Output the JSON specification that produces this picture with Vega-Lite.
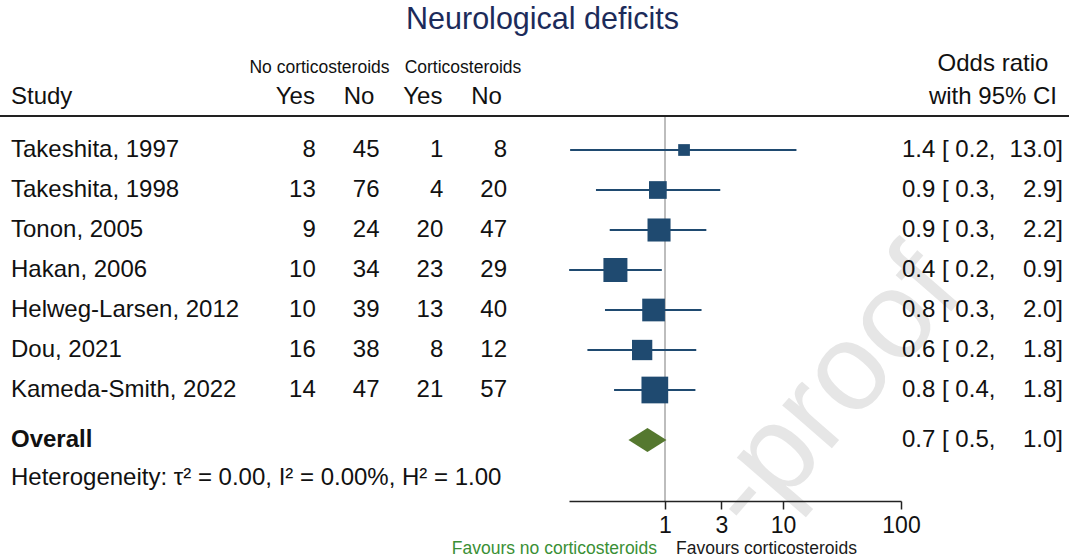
{
  "$schema": "https://vega.github.io/schema/vega-lite/v6.json",
  "width": 1069,
  "height": 558,
  "autosize": {"type": "none"},
  "padding": 0,
  "background": "#ffffff",
  "config": {
    "view": {"stroke": null},
    "text": {"font": "Liberation Sans", "fontSize": 24, "color": "#111111", "baseline": "middle"}
  },
  "datasets": {
    "rows": [
      {"kind": "study", "label": "Takeshita, 1997", "r": 1, "ny": 8, "nn": 45, "cy": 1, "cn": 8, "or": 1.45, "lo": 0.157, "hi": 13.0, "w": 4.3, "est": "1.4 [ 0.2,", "up": "13.0]"},
      {"kind": "study", "label": "Takeshita, 1998", "r": 2, "ny": 13, "nn": 76, "cy": 4, "cn": 20, "or": 0.87, "lo": 0.26, "hi": 2.94, "w": 9.8, "est": "0.9 [ 0.3,", "up": "2.9]"},
      {"kind": "study", "label": "Tonon, 2005", "r": 3, "ny": 9, "nn": 24, "cy": 20, "cn": 47, "or": 0.89, "lo": 0.34, "hi": 2.24, "w": 16.6, "est": "0.9 [ 0.3,", "up": "2.2]"},
      {"kind": "study", "label": "Hakan, 2006", "r": 4, "ny": 10, "nn": 34, "cy": 23, "cn": 29, "or": 0.38, "lo": 0.154, "hi": 0.94, "w": 18.0, "est": "0.4 [ 0.2,", "up": "0.9]"},
      {"kind": "study", "label": "Helweg-Larsen, 2012", "r": 5, "ny": 10, "nn": 39, "cy": 13, "cn": 40, "or": 0.8, "lo": 0.31, "hi": 2.04, "w": 16.1, "est": "0.8 [ 0.3,", "up": "2.0]"},
      {"kind": "study", "label": "Dou, 2021", "r": 6, "ny": 16, "nn": 38, "cy": 8, "cn": 12, "or": 0.64, "lo": 0.22, "hi": 1.84, "w": 12.9, "est": "0.6 [ 0.2,", "up": "1.8]"},
      {"kind": "study", "label": "Kameda-Smith, 2022", "r": 7, "ny": 14, "nn": 47, "cy": 21, "cn": 57, "or": 0.82, "lo": 0.37, "hi": 1.81, "w": 22.3, "est": "0.8 [ 0.4,", "up": "1.8]"},
      {"kind": "overall", "label": "Overall", "r": 8.25, "or": 0.71, "lo": 0.5, "hi": 1.03, "est": "0.7 [ 0.5,", "up": "1.0]"}
    ],
    "notes": [
      {"txt": "Study", "r": -0.325},
      {"txt": "Heterogeneity: τ² = 0.00, I² = 0.00%, H² = 1.00", "r": 9.2}
    ],
    "colheads": [
      {"key": "ny", "txt": "Yes", "r": -0.325},
      {"key": "nn", "txt": "No", "r": -0.325},
      {"key": "cy", "txt": "Yes", "r": -0.325},
      {"key": "cn", "txt": "No", "r": -0.325}
    ],
    "groupheads": [
      {"grp": "No corticosteroids", "r": -1.05},
      {"grp": "Corticosteroids", "r": -1.05}
    ],
    "orheads": [
      {"txt": "Odds ratio", "r": -1.15},
      {"txt": "with 95% CI", "r": -0.325}
    ],
    "title": [{"txt": "Neurological deficits", "r": -2.25}],
    "hline": [{"r": 0.15}],
    "refline": [{"or": 1, "r0": 0.15, "r1": 9.78}],
    "favours": [
      {"txt": "Favours no corticosteroids", "side": "no", "or": 1, "r": 10.975},
      {"txt": "Favours corticosteroids", "side": "yes", "or": 1, "r": 10.975}
    ],
    "watermark": [{"txt": "-proof", "or": 5.68, "r": 10.7}]
  },
  "encoding": {
    "y": {"field": "r", "type": "quantitative", "scale": {"domain": [-2.75, 11.2], "range": [0, 558], "nice": false, "zero": false}, "axis": null}
  },
  "resolve": {"scale": {"x": "independent"}},
  "layer": [
    {
      "layer": [
        {
          "data": {"name": "watermark"},
          "mark": {"type": "text", "fontSize": 124, "angle": -49, "align": "left", "baseline": "alphabetic", "color": "#e6e6e6"},
          "encoding": {
            "x": {"field": "or", "type": "quantitative", "scale": {"type": "log", "domain": [0.1536, 100], "range": [569, 901], "nice": false}, "axis": {"values": [1, 3, 10, 100], "format": "~g", "offset": -57, "zindex": 1, "title": null, "grid": false, "tickSize": 8, "tickWidth": 1.5, "tickColor": "#222222", "domainColor": "#222222", "domainWidth": 1.5, "labelFont": "Liberation Sans", "labelFontSize": 23, "labelColor": "#111111", "labelPadding": 5, "labelFlush": false, "labelOverlap": false, "labelBound": false}},
            "text": {"field": "txt", "type": "nominal"}
          }
        },
        {
          "data": {"name": "refline"},
          "mark": {"type": "rule", "color": "#9a9a9a", "strokeWidth": 1.3},
          "encoding": {
            "x": {"field": "or", "type": "quantitative", "scale": {"type": "log", "domain": [0.1536, 100], "range": [569, 901], "nice": false}, "axis": {"values": [1, 3, 10, 100], "format": "~g", "offset": -57, "zindex": 1, "title": null, "grid": false, "tickSize": 8, "tickWidth": 1.5, "tickColor": "#222222", "domainColor": "#222222", "domainWidth": 1.5, "labelFont": "Liberation Sans", "labelFontSize": 23, "labelColor": "#111111", "labelPadding": 5, "labelFlush": false, "labelOverlap": false, "labelBound": false}},
            "y": {"field": "r0", "type": "quantitative", "scale": {"domain": [-2.75, 11.2], "range": [0, 558], "nice": false, "zero": false}, "axis": null},
            "y2": {"field": "r1"}
          }
        },
        {
          "data": {"name": "rows"},
          "transform": [{"filter": "datum.kind == 'study'"}],
          "mark": {"type": "rule", "color": "#1f4a70", "strokeWidth": 2},
          "encoding": {
            "x": {"field": "lo", "type": "quantitative", "scale": {"type": "log", "domain": [0.1536, 100], "range": [569, 901], "nice": false}, "axis": {"values": [1, 3, 10, 100], "format": "~g", "offset": -57, "zindex": 1, "title": null, "grid": false, "tickSize": 8, "tickWidth": 1.5, "tickColor": "#222222", "domainColor": "#222222", "domainWidth": 1.5, "labelFont": "Liberation Sans", "labelFontSize": 23, "labelColor": "#111111", "labelPadding": 5, "labelFlush": false, "labelOverlap": false, "labelBound": false}},
            "x2": {"field": "hi"}
          }
        },
        {
          "data": {"name": "rows"},
          "transform": [{"filter": "datum.kind == 'study'"}],
          "mark": {"type": "point", "shape": "square", "filled": true, "opacity": 1, "color": "#1f4a70", "strokeWidth": 0},
          "encoding": {
            "x": {"field": "or", "type": "quantitative", "scale": {"type": "log", "domain": [0.1536, 100], "range": [569, 901], "nice": false}, "axis": {"values": [1, 3, 10, 100], "format": "~g", "offset": -57, "zindex": 1, "title": null, "grid": false, "tickSize": 8, "tickWidth": 1.5, "tickColor": "#222222", "domainColor": "#222222", "domainWidth": 1.5, "labelFont": "Liberation Sans", "labelFontSize": 23, "labelColor": "#111111", "labelPadding": 5, "labelFlush": false, "labelOverlap": false, "labelBound": false}},
            "size": {"field": "w", "type": "quantitative", "scale": {"type": "linear", "domain": [0, 25], "range": [0, 800], "zero": true}, "legend": null}
          }
        },
        {
          "data": {"name": "rows"},
          "transform": [{"filter": "datum.kind == 'overall'"}],
          "mark": {"type": "point", "shape": "M-1,0L0,-0.63L1,0L0,0.63Z", "size": 1444, "filled": true, "opacity": 1, "color": "#55782f", "strokeWidth": 0},
          "encoding": {
            "x": {"field": "or", "type": "quantitative", "scale": {"type": "log", "domain": [0.1536, 100], "range": [569, 901], "nice": false}, "axis": {"values": [1, 3, 10, 100], "format": "~g", "offset": -57, "zindex": 1, "title": null, "grid": false, "tickSize": 8, "tickWidth": 1.5, "tickColor": "#222222", "domainColor": "#222222", "domainWidth": 1.5, "labelFont": "Liberation Sans", "labelFontSize": 23, "labelColor": "#111111", "labelPadding": 5, "labelFlush": false, "labelOverlap": false, "labelBound": false}}
          }
        },
        {
          "data": {"name": "favours"},
          "transform": [{"filter": "datum.side == 'no'"}],
          "mark": {"type": "text", "align": "right", "dx": -8, "fontSize": 17.5, "color": "#3a8f35"},
          "encoding": {
            "x": {"field": "or", "type": "quantitative", "scale": {"type": "log", "domain": [0.1536, 100], "range": [569, 901], "nice": false}, "axis": {"values": [1, 3, 10, 100], "format": "~g", "offset": -57, "zindex": 1, "title": null, "grid": false, "tickSize": 8, "tickWidth": 1.5, "tickColor": "#222222", "domainColor": "#222222", "domainWidth": 1.5, "labelFont": "Liberation Sans", "labelFontSize": 23, "labelColor": "#111111", "labelPadding": 5, "labelFlush": false, "labelOverlap": false, "labelBound": false}},
            "text": {"field": "txt", "type": "nominal"}
          }
        },
        {
          "data": {"name": "favours"},
          "transform": [{"filter": "datum.side == 'yes'"}],
          "mark": {"type": "text", "align": "left", "dx": 11, "fontSize": 17.5, "color": "#1a1a1a"},
          "encoding": {
            "x": {"field": "or", "type": "quantitative", "scale": {"type": "log", "domain": [0.1536, 100], "range": [569, 901], "nice": false}, "axis": {"values": [1, 3, 10, 100], "format": "~g", "offset": -57, "zindex": 1, "title": null, "grid": false, "tickSize": 8, "tickWidth": 1.5, "tickColor": "#222222", "domainColor": "#222222", "domainWidth": 1.5, "labelFont": "Liberation Sans", "labelFontSize": 23, "labelColor": "#111111", "labelPadding": 5, "labelFlush": false, "labelOverlap": false, "labelBound": false}},
            "text": {"field": "txt", "type": "nominal"}
          }
        }
      ]
    },
    {
      "data": {"name": "hline"},
      "mark": {"type": "rule", "color": "#222222", "strokeWidth": 2},
      "encoding": {}
    },
    {
      "data": {"name": "title"},
      "mark": {"type": "text", "align": "center", "fontSize": 30.5, "color": "#1c2b5a", "dx": 8},
      "encoding": {"text": {"field": "txt", "type": "nominal"}}
    },
    {
      "layer": [
        {
          "data": {"name": "rows"},
          "transform": [{"filter": "datum.kind == 'study'"}],
          "mark": {"type": "text", "align": "left"},
          "encoding": {
            "x": {"datum": "L", "type": "nominal", "bandPosition": 0, "scale": {"type": "band", "domain": ["L"], "range": [11, 400], "paddingInner": 0, "paddingOuter": 0}, "axis": null},
            "text": {"field": "label", "type": "nominal"}
          }
        },
        {
          "data": {"name": "rows"},
          "transform": [{"filter": "datum.kind == 'overall'"}],
          "mark": {"type": "text", "align": "left", "fontWeight": "bold"},
          "encoding": {
            "x": {"datum": "L", "type": "nominal", "bandPosition": 0, "scale": {"type": "band", "domain": ["L"], "range": [11, 400], "paddingInner": 0, "paddingOuter": 0}, "axis": null},
            "text": {"field": "label", "type": "nominal"}
          }
        },
        {
          "data": {"name": "notes"},
          "mark": {"type": "text", "align": "left"},
          "encoding": {
            "x": {"datum": "L", "type": "nominal", "bandPosition": 0, "scale": {"type": "band", "domain": ["L"], "range": [11, 400], "paddingInner": 0, "paddingOuter": 0}, "axis": null},
            "text": {"field": "txt", "type": "nominal"}
          }
        }
      ]
    },
    {
      "layer": [
        {
          "data": {"name": "rows"},
          "transform": [{"filter": "datum.kind == 'study'"}, {"fold": ["ny", "nn", "cy", "cn"], "as": ["key", "val"]}],
          "mark": {"type": "text", "align": "right"},
          "encoding": {
            "x": {"field": "key", "type": "nominal", "bandPosition": 1, "scale": {"type": "band", "domain": ["ny", "nn", "cy", "cn"], "range": [252, 507], "paddingInner": 0, "paddingOuter": 0}, "axis": null},
            "text": {"field": "val", "type": "quantitative", "format": "d"}
          }
        },
        {
          "data": {"name": "colheads"},
          "mark": {"type": "text", "align": "center"},
          "encoding": {
            "x": {"field": "key", "type": "nominal", "bandPosition": 0.68, "scale": {"type": "band", "domain": ["ny", "nn", "cy", "cn"], "range": [252, 507], "paddingInner": 0, "paddingOuter": 0}, "axis": null},
            "text": {"field": "txt", "type": "nominal"}
          }
        }
      ]
    },
    {
      "data": {"name": "groupheads"},
      "mark": {"type": "text", "align": "center", "fontSize": 17.5},
      "encoding": {
        "x": {"field": "grp", "type": "nominal", "scale": {"type": "band", "domain": ["No corticosteroids", "Corticosteroids"], "range": [247.75, 534.75], "paddingInner": 0, "paddingOuter": 0}, "axis": null},
        "text": {"field": "grp", "type": "nominal"}
      }
    },
    {
      "layer": [
        {
          "data": {"name": "rows"},
          "mark": {"type": "text", "align": "left"},
          "encoding": {
            "x": {"datum": "est", "type": "nominal", "bandPosition": 0, "scale": {"type": "band", "domain": ["est", "up"], "range": [902, 1063], "paddingInner": 0, "paddingOuter": 0}, "axis": null},
            "text": {"field": "est", "type": "nominal"}
          }
        },
        {
          "data": {"name": "rows"},
          "mark": {"type": "text", "align": "right"},
          "encoding": {
            "x": {"datum": "up", "type": "nominal", "bandPosition": 1, "scale": {"type": "band", "domain": ["est", "up"], "range": [902, 1063], "paddingInner": 0, "paddingOuter": 0}, "axis": null},
            "text": {"field": "up", "type": "nominal"}
          }
        },
        {
          "data": {"name": "orheads"},
          "mark": {"type": "text", "align": "center"},
          "encoding": {
            "x": {"datum": "up", "type": "nominal", "bandPosition": 0.13, "scale": {"type": "band", "domain": ["est", "up"], "range": [902, 1063], "paddingInner": 0, "paddingOuter": 0}, "axis": null},
            "text": {"field": "txt", "type": "nominal"}
          }
        }
      ]
    }
  ]
}
